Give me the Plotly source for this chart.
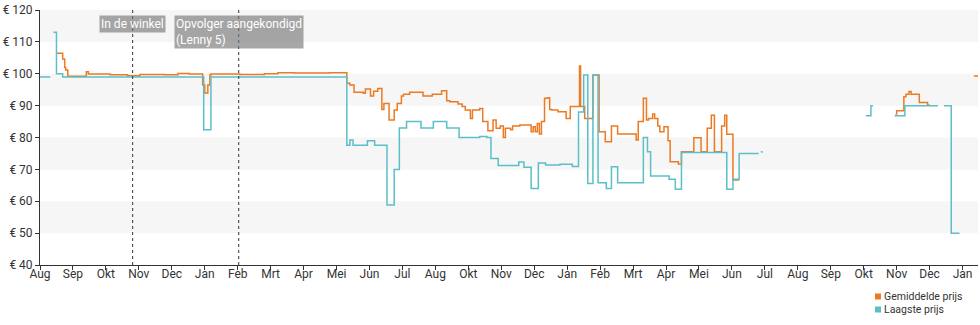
import plotly.graph_objects as go

# ---- price history (step data, None = no price known) ----
lowest_dates = [
    "2017-08-11", "2017-08-21", "2017-08-22",
    "2017-08-24", "2017-08-27", "2017-09-02",
    "2018-01-17", "2018-01-24",
    "2018-06-05", "2018-06-08", "2018-06-11", "2018-06-25", "2018-07-02",
    "2018-07-14", "2018-07-21", "2018-07-26", "2018-08-02", "2018-08-16",
    "2018-08-28", "2018-09-10", "2018-09-22", "2018-10-12", "2018-10-19",
    "2018-10-23", "2018-10-30", "2018-11-19", "2018-11-24", "2018-12-01",
    "2018-12-08", "2018-12-15", "2018-12-29", "2019-01-10",
    "2019-01-16", "2019-01-21", "2019-01-25", "2019-01-30", "2019-02-04",
    "2019-02-12", "2019-02-17", "2019-02-23", "2019-03-20", "2019-03-24",
    "2019-03-27", "2019-04-14", "2019-04-20", "2019-04-26", "2019-06-09",
    "2019-06-15", "2019-06-21", "2019-07-10", "2019-07-11",
    "2019-07-12", "2019-07-14", "2019-07-15",
    "2019-10-22", "2019-10-27", "2019-10-29", "2019-10-30",
    "2019-11-19", "2019-11-29", "2019-12-31", "2020-01-01",
    "2020-01-06", "2020-01-13", "2020-01-21",
]
lowest_prices = [
    99, 99, None,
    113, 100, 99,
    82.4, 99,
    77.6, 79.2, 77.6, 79, 77.6,
    58.8, 70, 83, 85, 83,
    85, 83, 80, 80.3, 80,
    73.4, 71.2, 72.3, 70.7, 64,
    72, 71.4, 71.6, 70.9,
    88, 99.6, 65.6, 99.6, 65.8,
    64, 70.8, 65.8, 80, 75.5,
    67.9, 66.9, 63.8, 75.3, 63.8,
    66.9, 75, 75, None,
    75.5, 75.5, None,
    86.8, 90, 90, None,
    86.8, 90, 90, None,
    90, 50, 50,
]

average_dates = [
    "2017-08-27", "2017-09-02", "2017-09-04", "2017-09-05", "2017-09-07",
    "2017-09-25", "2017-09-27", "2017-10-18", "2017-11-04", "2017-11-16",
    "2017-12-10", "2017-12-23", "2018-01-03",
    "2018-01-16", "2018-01-18", "2018-01-21", "2018-01-23", "2018-01-24",
    "2018-02-21", "2018-03-17", "2018-03-30", "2018-04-15", "2018-05-19",
    "2018-06-05", "2018-06-08", "2018-06-12", "2018-06-21", "2018-06-23",
    "2018-06-28", "2018-07-01", "2018-07-05", "2018-07-09", "2018-07-11",
    "2018-07-16", "2018-07-21", "2018-07-24", "2018-07-28", "2018-07-30",
    "2018-08-05", "2018-08-18", "2018-08-27", "2018-09-05", "2018-09-10",
    "2018-09-13", "2018-09-21", "2018-09-25", "2018-09-28", "2018-10-03",
    "2018-10-05", "2018-10-12", "2018-10-15", "2018-10-20", "2018-10-25",
    "2018-10-28", "2018-11-01", "2018-11-04", "2018-11-06", "2018-11-11",
    "2018-11-13", "2018-11-20", "2018-12-01", "2018-12-03", "2018-12-05",
    "2018-12-07", "2018-12-09", "2018-12-11", "2018-12-14", "2018-12-17",
    "2018-12-19", "2018-12-21", "2018-12-27", "2019-01-04", "2019-01-08",
    "2019-01-17", "2019-01-18", "2019-01-22", "2019-01-30", "2019-02-05",
    "2019-02-11", "2019-02-17", "2019-02-23", "2019-03-13", "2019-03-15",
    "2019-03-20", "2019-03-23", "2019-03-25", "2019-03-29", "2019-03-31",
    "2019-04-03", "2019-04-05", "2019-04-09", "2019-04-13", "2019-04-15",
    "2019-04-23", "2019-04-26", "2019-05-08", "2019-05-15", "2019-05-21",
    "2019-05-25", "2019-05-28", "2019-06-04", "2019-06-07", "2019-06-09",
    "2019-06-15", "2019-06-21", "2019-06-22",
    "2019-11-20", "2019-11-21", "2019-11-28", "2019-11-30", "2019-12-03",
    "2019-12-05", "2019-12-13", "2019-12-21", "2019-12-23", "2019-12-24",
    "2020-02-04", "2020-02-08",
]
average_prices = [
    106.4, 104.6, 102, 101.2, 99.2,
    100.6, 99.9, 99.7, 99.4, 99.8,
    99.7, 100.1, 99.9,
    96.5, 94, 96.5, 99.6, 99.9,
    99.8, 100, 100.3, 100.2, 100.3,
    97, 96.5, 94.2, 93.9, 95.2,
    93, 94.5, 95.4, 88.8, 90.7,
    85.5, 88.6, 90.7, 93, 93.6,
    94.2, 93, 93.6, 94.7, 91.5,
    91.2, 90.5, 89.7, 88.6, 86,
    88.6, 89.1, 85, 82.1, 85.5,
    82.9, 83.6, 80, 82.9, 82.4,
    83.6, 83.9, 81.8, 83.4, 81.8,
    84.4, 81.1, 85, 92.3, 92.5,
    88.8, 88.6, 88.1, 86, 89.7,
    102.4, 89.7, 86, 99.6, 81.8,
    78.7, 83.6, 81.1, 79.2, 85,
    92.3, 85.5, 86, 87.4, 86,
    83.6, 81.8, 83.4, 79, 72.4,
    71.7, 75.5, 79.9, 75.5, 82.9,
    87, 75.5, 83.6, 87, 81,
    66.7, 66.7, None,
    87.4, 88.4, 92.8, 93.6, 94.4,
    93.6, 91, 90.2, 90.2, None,
    99.3, 99.3,
]

# ---- axis ticks ----
tick_dates = [
    "2017-08-11", "2017-09-12", "2017-10-14", "2017-11-15", "2017-12-17",
    "2018-01-18", "2018-02-19", "2018-03-23", "2018-04-24", "2018-05-26",
    "2018-06-27", "2018-07-29", "2018-08-30", "2018-10-01", "2018-11-02",
    "2018-12-04", "2019-01-05", "2019-02-06", "2019-03-10", "2019-04-11",
    "2019-05-13", "2019-06-14", "2019-07-16", "2019-08-17", "2019-09-18",
    "2019-10-20", "2019-11-21", "2019-12-23", "2020-01-24",
]
tick_labels = [
    "Aug", "Sep", "Okt", "Nov", "Dec", "Jan", "Feb", "Mrt", "Apr", "Mei",
    "Jun", "Jul", "Aug", "Okt", "Nov", "Dec", "Jan", "Feb", "Mrt", "Apr",
    "Mei", "Jun", "Jul", "Aug", "Sep", "Okt", "Nov", "Dec", "Jan",
]
price_ticks = [40, 50, 60, 70, 80, 90, 100, 110, 120]
price_labels = ["€ 40", "€ 50", "€ 60", "€ 70", "€ 80", "€ 90", "€ 100", "€ 110", "€ 120"]

# ---- events ----
event_dates = ["2017-11-09", "2018-02-20"]
event_labels = ["In de winkel", "Opvolger aangekondigd<br>(Lenny 5)"]

series_names = ["Gemiddelde prijs", "Laagste prijs"]
ORANGE = "#ec7a23"
TEAL = "#5cbec7"
FONT = "Roboto, 'Noto Sans', sans-serif"

fig = go.Figure()
fig.add_trace(go.Scatter(
    x=average_dates, y=average_prices, mode="lines", name=series_names[0],
    line=dict(color=ORANGE, width=1.5, shape="hv"), connectgaps=False,
    showlegend=False,
))
fig.add_trace(go.Scatter(
    x=lowest_dates, y=lowest_prices, mode="lines", name=series_names[1],
    line=dict(color=TEAL, width=1.5, shape="hv"), connectgaps=False,
    showlegend=False,
))

shapes = []
# alternating horizontal bands
for lo in (110, 90, 70, 50):
    shapes.append(dict(type="rect", xref="paper", yref="y", x0=0, x1=1,
                       y0=lo, y1=lo + 10, fillcolor="#f6f6f6",
                       line=dict(width=0), layer="below"))
# event markers
for d in event_dates:
    shapes.append(dict(type="line", xref="x", yref="paper", x0=d, x1=d,
                       y0=0, y1=1, line=dict(color="#333333", width=1, dash="dot")))

annotations = []
for d, txt in zip(event_dates, event_labels):
    annotations.append(dict(
        x=d, xref="x", y=1, yref="paper", yanchor="top", xanchor="center",
        yshift=-5, text=txt, showarrow=False, align="left",
        font=dict(family=FONT, size=12, color="white"),
        bgcolor="rgba(120,120,120,0.65)", borderpad=1,
    ))

# legend drawn as colored squares with labels
legend_rows = [(-0.1235, ORANGE, series_names[0]), (-0.1745, TEAL, series_names[1])]
for yc, col, name in legend_rows:
    shapes.append(dict(type="rect", xref="paper", yref="paper",
                       x0=0.8902, x1=0.8966, y0=yc - 0.0118, y1=yc + 0.0118,
                       fillcolor=col, line=dict(width=0)))
    annotations.append(dict(
        x=0.8987, xref="paper", y=yc, yref="paper", xanchor="left",
        yanchor="middle", text=name, showarrow=False,
        font=dict(family=FONT, size=10.5, color="#333333"), borderpad=0,
    ))

fig.update_layout(
    width=980, height=325,
    margin=dict(l=40, r=2, t=10, b=60),
    paper_bgcolor="white", plot_bgcolor="white",
    font=dict(family=FONT, size=12, color="#333333"),
    shapes=shapes, annotations=annotations,
    showlegend=False,
)
fig.update_xaxes(
    type="date", range=["2017-08-11", "2020-02-08"],
    tickmode="array", tickvals=tick_dates, ticktext=tick_labels,
    ticks="outside", ticklen=4, tickcolor="#333333",
    ticklabelstandoff=-6,
    showline=True, linecolor="#333333", linewidth=1,
    showgrid=False, zeroline=False,
    tickfont=dict(family=FONT, size=12, color="#333333"),
)
fig.update_yaxes(
    range=[40, 120], tickmode="array", tickvals=price_ticks, ticktext=price_labels,
    ticks="outside", ticklen=4, tickcolor="#333333",
    showline=True, linecolor="#333333", linewidth=1,
    showgrid=False, zeroline=False,
    tickfont=dict(family=FONT, size=12, color="#333333"),
)

fig.write_html("out.html")
